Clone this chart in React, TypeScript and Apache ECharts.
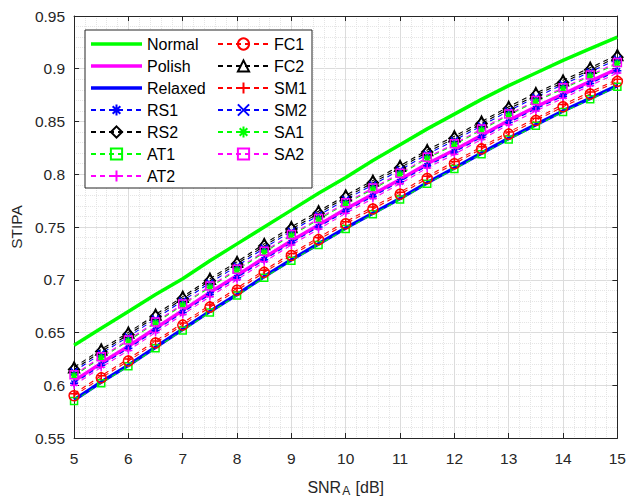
import React, { useEffect, useRef } from 'react';
import * as echarts from 'echarts';

// SNR_A axis values [dB]
const snr = [5, 5.5, 6, 6.5, 7, 7.5, 8, 8.5, 9, 9.5, 10, 10.5, 11, 11.5, 12, 12.5, 13, 13.5, 14, 14.5, 15];

// STIPA curves
const normal = [0.638, 0.654, 0.670, 0.686, 0.701, 0.718, 0.734, 0.750, 0.766, 0.782, 0.797, 0.813, 0.828, 0.843, 0.857, 0.871, 0.884, 0.896, 0.908, 0.919, 0.930];
const polish = [0.604, 0.621, 0.637, 0.654, 0.671, 0.688, 0.704, 0.721, 0.737, 0.752, 0.767, 0.781, 0.795, 0.810, 0.823, 0.837, 0.851, 0.864, 0.876, 0.888, 0.900];
const relaxed = [0.586, 0.603, 0.619, 0.636, 0.653, 0.670, 0.686, 0.703, 0.719, 0.734, 0.749, 0.763, 0.777, 0.792, 0.806, 0.820, 0.834, 0.847, 0.860, 0.872, 0.884];
const rs1 = [0.602, 0.619, 0.635, 0.652, 0.669, 0.686, 0.702, 0.719, 0.735, 0.750, 0.765, 0.779, 0.793, 0.808, 0.821, 0.835, 0.849, 0.862, 0.874, 0.886, 0.898];
const rs2 = [0.615, 0.632, 0.648, 0.665, 0.682, 0.699, 0.715, 0.732, 0.748, 0.763, 0.778, 0.792, 0.806, 0.821, 0.834, 0.848, 0.862, 0.875, 0.887, 0.899, 0.911];
const at1 = [0.585, 0.602, 0.618, 0.635, 0.652, 0.669, 0.685, 0.702, 0.718, 0.733, 0.748, 0.762, 0.776, 0.791, 0.805, 0.819, 0.833, 0.846, 0.859, 0.871, 0.883];
const at2 = [0.600, 0.617, 0.633, 0.650, 0.667, 0.684, 0.700, 0.717, 0.733, 0.748, 0.763, 0.777, 0.791, 0.806, 0.819, 0.833, 0.847, 0.860, 0.872, 0.884, 0.896];
const fc1 = [0.590, 0.607, 0.623, 0.640, 0.657, 0.674, 0.690, 0.707, 0.723, 0.738, 0.753, 0.767, 0.781, 0.796, 0.810, 0.824, 0.838, 0.851, 0.864, 0.876, 0.888];
const fc2 = [0.617, 0.634, 0.650, 0.667, 0.684, 0.701, 0.717, 0.734, 0.750, 0.765, 0.780, 0.794, 0.808, 0.823, 0.836, 0.850, 0.864, 0.877, 0.889, 0.901, 0.913];
const sm1 = [0.592, 0.609, 0.625, 0.642, 0.659, 0.676, 0.692, 0.709, 0.725, 0.740, 0.755, 0.769, 0.783, 0.798, 0.812, 0.826, 0.840, 0.853, 0.866, 0.878, 0.890];
const sm2 = [0.613, 0.630, 0.646, 0.663, 0.680, 0.697, 0.713, 0.730, 0.746, 0.761, 0.776, 0.790, 0.804, 0.819, 0.832, 0.846, 0.860, 0.873, 0.885, 0.897, 0.909];
const sa1 = [0.609, 0.626, 0.642, 0.659, 0.676, 0.693, 0.709, 0.726, 0.742, 0.757, 0.772, 0.786, 0.800, 0.815, 0.828, 0.842, 0.856, 0.869, 0.881, 0.893, 0.905];
const sa2 = [0.610, 0.627, 0.643, 0.660, 0.677, 0.694, 0.710, 0.727, 0.743, 0.758, 0.773, 0.787, 0.801, 0.816, 0.829, 0.843, 0.857, 0.870, 0.882, 0.894, 0.906];

const solidNames = ['Normal', 'Polish', 'Relaxed'];
const legendLeft = ['Normal', 'Polish', 'Relaxed', 'RS1', 'RS2', 'AT1', 'AT2'];
const legendRight = ['FC1', 'FC2', 'SM1', 'SM2', 'SA1', 'SA2'];

const FONT = '"Liberation Sans", Arial, Helvetica, sans-serif';
const AXIS = '#262626';
const PLUS = 'path://M5,0L5,10M0,5L10,5';
const CROSS = 'path://M0,0L10,10M10,0L0,10';
const STAR = 'path://M5,0L5,10M0,5L10,5M1.6,1.6L8.4,8.4M8.4,1.6L1.6,8.4';
const BAR = 'path://M0,0L51,0L51,3.5L0,3.5Z';

const pairs = (ys: number[]) => snr.map((x, i) => [x, ys[i]]);

const solid = (name: string, ys: number[], color: string) => ({
  name,
  type: 'line',
  data: pairs(ys),
  symbol: 'none',
  lineStyle: { color, width: 3.5 },
  itemStyle: { color },
});

const dashed = (name: string, ys: number[], color: string, symbol: string, size: number) => ({
  name,
  type: 'line',
  data: pairs(ys),
  symbol,
  symbolSize: size,
  lineStyle: { color, width: 1.1, type: [5, 4] },
  itemStyle: { color: 'transparent', borderColor: color, borderWidth: 1.5 },
});

const legendItems = (names: string[]) =>
  names.map((n) => (solidNames.includes(n) ? { name: n, icon: BAR } : { name: n }));

const App: React.FC = () => {
  const chartRef = useRef<HTMLDivElement>(null);

  useEffect(() => {
    if (!chartRef.current) return;
    const chart = echarts.init(chartRef.current, undefined, { renderer: 'svg' });

    const sideAxis = {
      type: 'value',
      axisLine: { show: true, lineStyle: { color: AXIS } },
      axisTick: { show: true, inside: true, length: 5, lineStyle: { color: AXIS } },
      axisLabel: { show: false },
      splitLine: { show: false },
    };

    const legendBase = {
      orient: 'vertical',
      top: 36,
      padding: 0,
      itemWidth: 51,
      itemHeight: 14,
      itemGap: 6,
      selectedMode: false,
      z: 10,
      textStyle: { fontFamily: FONT, fontSize: 16, color: '#000' },
    };

    const option: any = {
      animation: false,
      backgroundColor: '#fff',
      grid: { left: 72, right: 6, top: 16, bottom: 59 },
      legend: [
        { ...legendBase, left: 90, data: legendItems(legendLeft) },
        { ...legendBase, left: 217, data: legendItems(legendRight) },
      ],
      graphic: [
        {
          type: 'rect',
          z: 5,
          shape: { x: 85, y: 30, width: 227, height: 158 },
          style: { fill: '#fff', stroke: AXIS, lineWidth: 1 },
        },
      ],
      xAxis: [
        {
          type: 'value',
          min: 5,
          max: 15,
          interval: 1,
          position: 'bottom',
          name: '{a|SNR}{s|A}{a| [dB]}',
          nameLocation: 'middle',
          nameGap: 39,
          nameTextStyle: {
            rich: {
              a: { fontFamily: FONT, fontSize: 16, color: AXIS, lineHeight: 20, verticalAlign: 'middle' },
              s: { fontFamily: FONT, fontSize: 12, color: AXIS, lineHeight: 20, verticalAlign: 'bottom', padding: [9, 1, 0, 1] },
            },
          },
          axisLine: { show: true, lineStyle: { color: AXIS } },
          axisTick: { show: true, inside: true, length: 5, lineStyle: { color: AXIS } },
          axisLabel: { fontFamily: FONT, fontSize: 15.5, color: AXIS, margin: 12 },
          splitLine: { show: true, lineStyle: { color: '#dcdcdc', width: 1 } },
          minorTick: { show: false, splitNumber: 5 },
          minorSplitLine: { show: true, lineStyle: { color: '#e4e4e4', type: 'dotted', width: 1 } },
        },
        { ...sideAxis, min: 5, max: 15, interval: 1, position: 'top' },
      ],
      yAxis: [
        {
          type: 'value',
          min: 0.55,
          max: 0.95,
          interval: 0.05,
          position: 'left',
          name: 'STIPA',
          nameLocation: 'middle',
          nameGap: 48,
          nameTextStyle: { fontFamily: FONT, fontSize: 15.5, color: AXIS },
          axisLine: { show: true, lineStyle: { color: AXIS } },
          axisTick: { show: true, inside: true, length: 5, lineStyle: { color: AXIS } },
          axisLabel: { fontFamily: FONT, fontSize: 15.5, color: AXIS, margin: 9 },
          splitLine: { show: true, lineStyle: { color: '#dcdcdc', width: 1 } },
          minorTick: { show: false, splitNumber: 5 },
          minorSplitLine: { show: true, lineStyle: { color: '#e4e4e4', type: 'dotted', width: 1 } },
        },
        { ...sideAxis, min: 0.55, max: 0.95, interval: 0.05, position: 'right' },
      ],
      series: [
        solid('Normal', normal, '#00ff00'),
        solid('Polish', polish, '#ff00ff'),
        solid('Relaxed', relaxed, '#0000ff'),
        dashed('RS1', rs1, '#0000ff', STAR, 8),
        dashed('RS2', rs2, '#000000', 'diamond', 11),
        dashed('AT1', at1, '#00ff00', 'rect', 7),
        dashed('AT2', at2, '#ff00ff', PLUS, 8),
        dashed('FC1', fc1, '#ff0000', 'circle', 10),
        dashed('FC2', fc2, '#000000', 'triangle', 11),
        dashed('SM1', sm1, '#ff0000', PLUS, 8),
        dashed('SM2', sm2, '#0000ff', CROSS, 7),
        dashed('SA1', sa1, '#00ff00', STAR, 8),
        dashed('SA2', sa2, '#ff00ff', 'rect', 8),
      ],
    };

    chart.setOption(option);
    return () => {
      chart.dispose();
    };
  }, []);

  return (
    <div
      ref={chartRef}
      style={{ position: 'absolute', left: 0, top: 0, width: 629, height: 502 }}
    />
  );
};

export default App;
